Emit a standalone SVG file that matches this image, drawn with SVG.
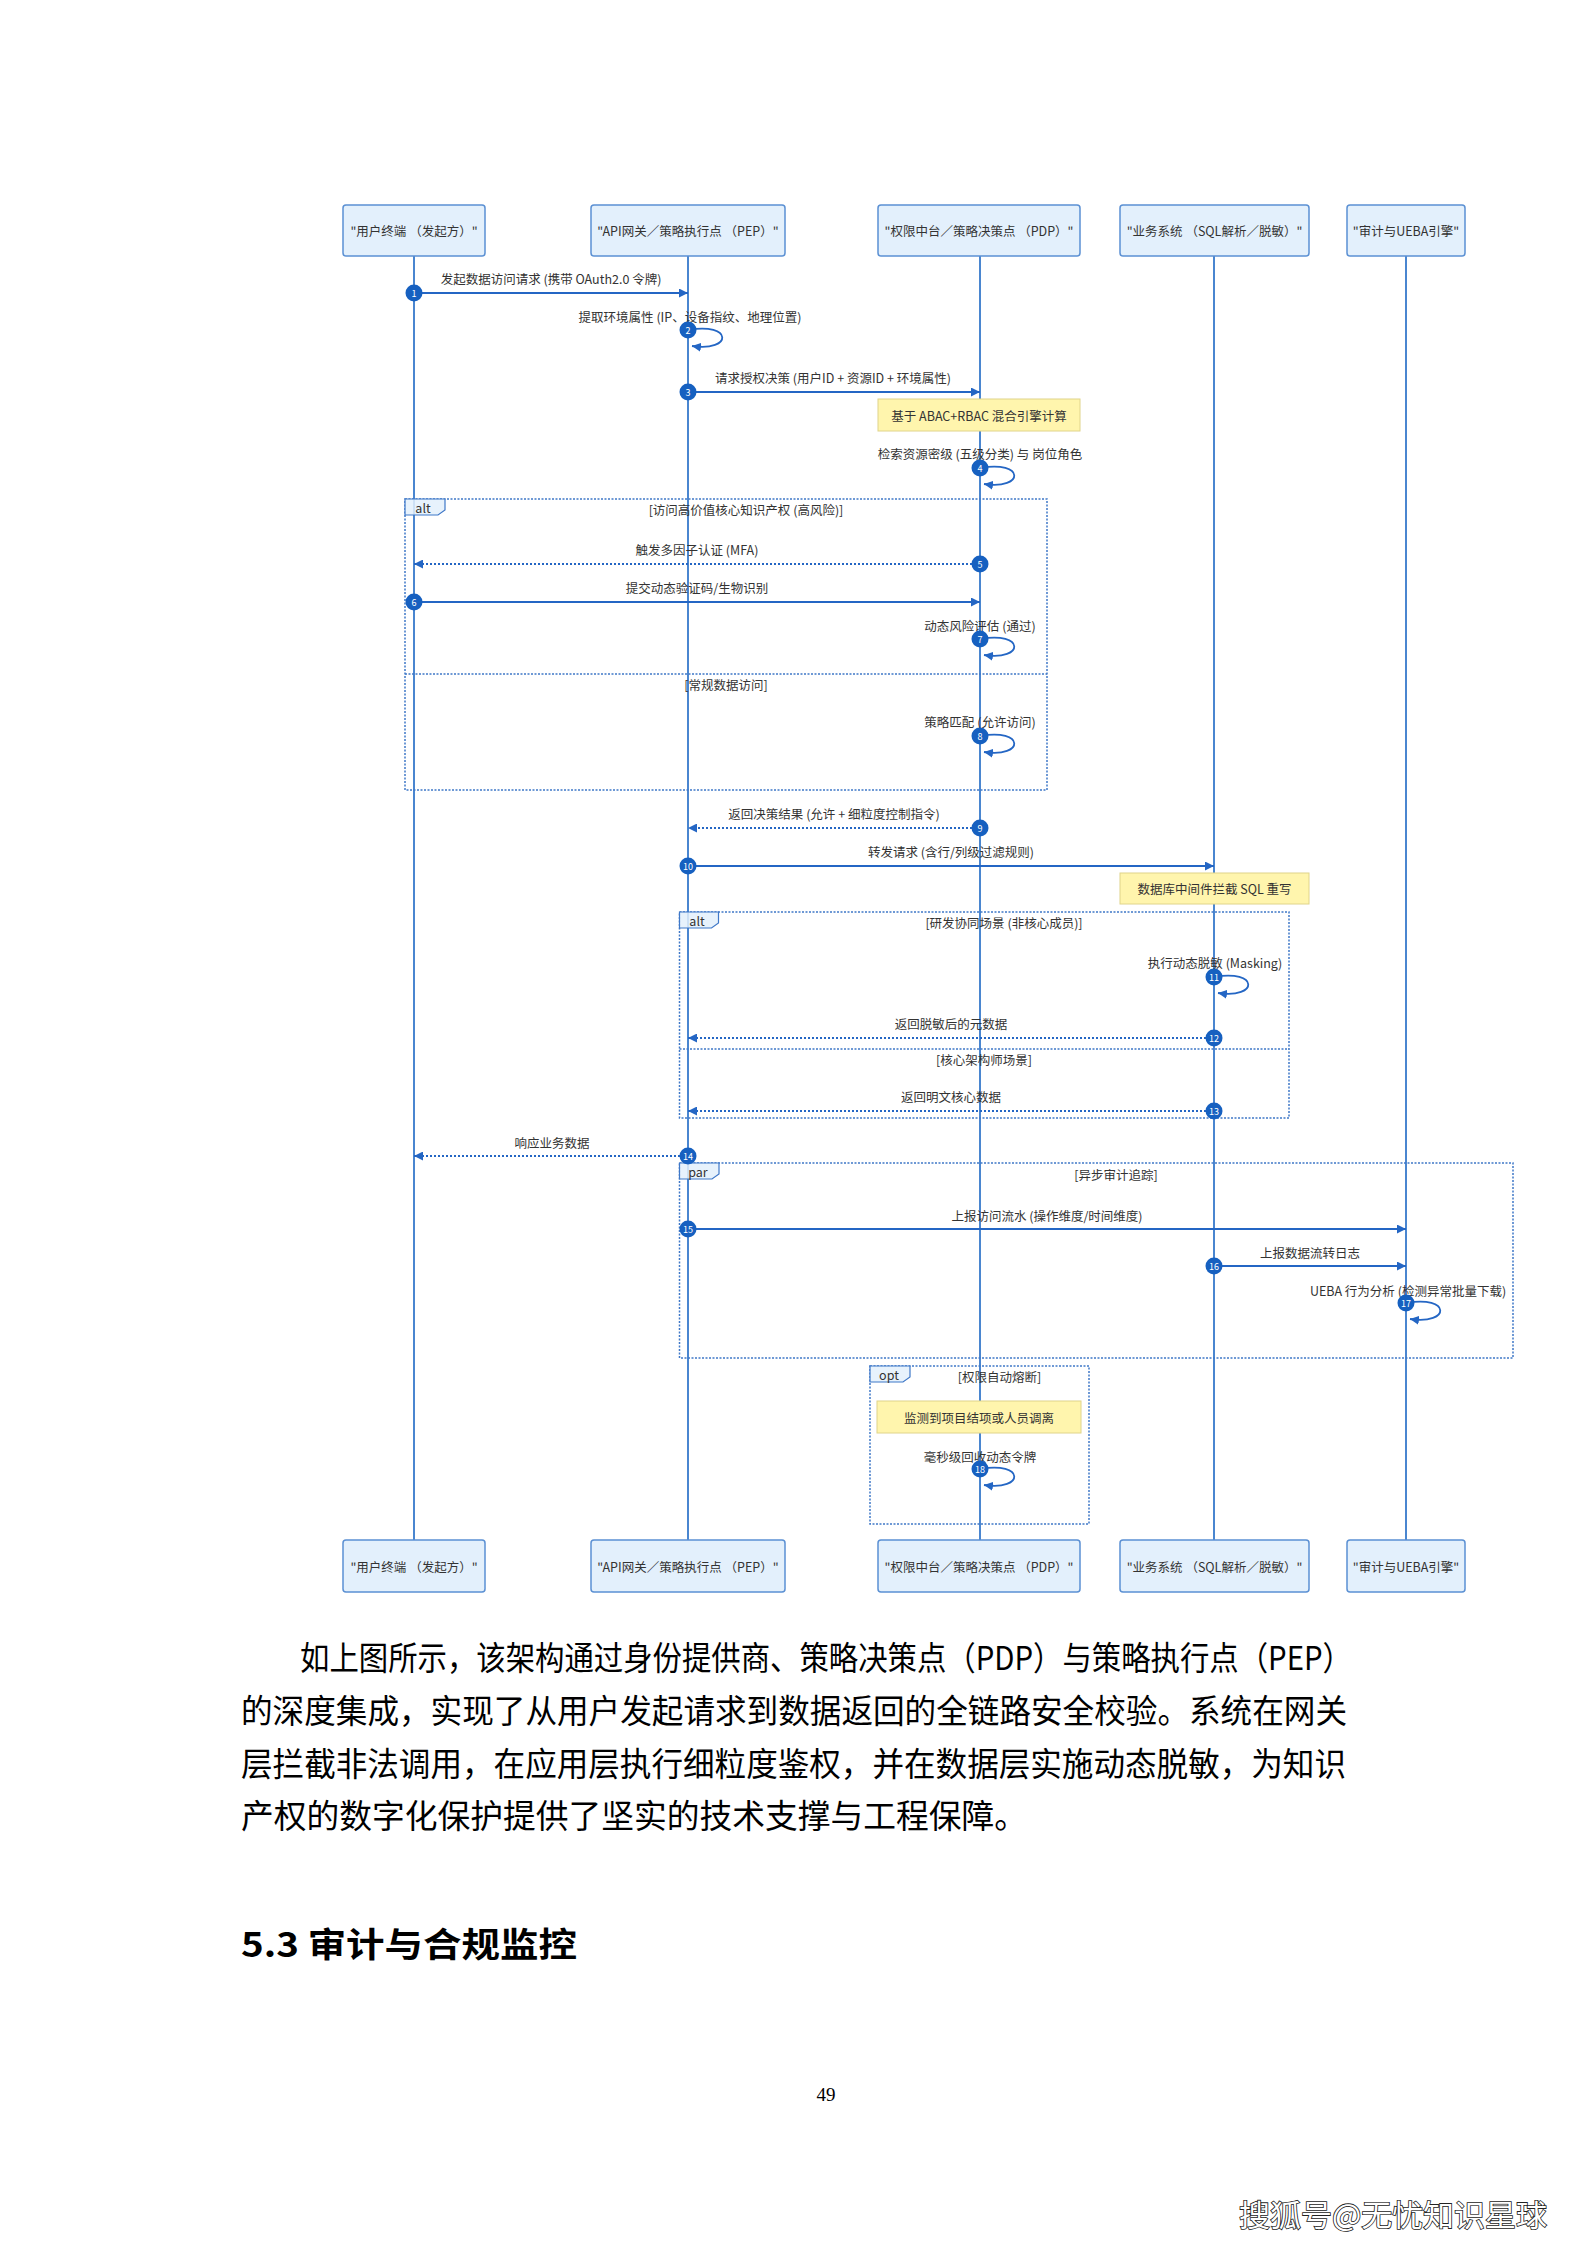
<svg xmlns="http://www.w3.org/2000/svg" width="1587" height="2245" viewBox="0 0 1587 2245">
<defs>
<style>
text{font-family:"Noto Sans CJK SC","Noto Sans",sans-serif;}
.actor rect{fill:#e3f0fc;stroke:#5b90d3;stroke-width:1.5;}
.actor text{font-size:12.5px;fill:#333;text-anchor:middle;dominant-baseline:central;}
.life{stroke:#4a86d0;stroke-width:2;}
.msg{stroke:#2466c4;stroke-width:1.8;fill:none;}
.dot{stroke-dasharray:2,2;}
.lbl{font-size:12.5px;fill:#333;text-anchor:middle;dominant-baseline:central;}
.seq circle{fill:#1660c0;}
.seq text{font-size:9px;fill:#fff;text-anchor:middle;dominant-baseline:central;}
.frame{fill:none;stroke:#3f78c8;stroke-width:1.5;stroke-dasharray:2,1.5;}
.tab{fill:#e3f0fc;fill-opacity:0.85;stroke:#3f78c8;stroke-width:1.2;}
.tabt{font-size:12.5px;fill:#333;text-anchor:middle;dominant-baseline:central;}
.note rect{fill:#fff5ad;stroke:#e0d48a;stroke-width:1;}
.note text{font-size:12.5px;fill:#333;text-anchor:middle;dominant-baseline:central;}
.para{font-size:33px;fill:#000;dominant-baseline:central;}
</style>
<marker id="ah" viewBox="0 0 10 10" refX="10" refY="5" markerWidth="9" markerHeight="9" markerUnits="userSpaceOnUse" orient="auto">
<path d="M0,0 L10,5 L0,10 z" fill="#2466c4"/>
</marker>
</defs>
<rect width="1587" height="2245" fill="#fff"/>

<!-- lifelines -->
<g id="lifelines">
<line class="life" x1="414" y1="256" x2="414" y2="1540"/>
<line class="life" x1="688" y1="256" x2="688" y2="1540"/>
<line class="life" x1="980" y1="256" x2="980" y2="1540"/>
<line class="life" x1="1214" y1="256" x2="1214" y2="1540"/>
<line class="life" x1="1406" y1="256" x2="1406" y2="1540"/>
</g>

<!-- actors top -->
<g id="actor-user" class="actor"><rect x="343" y="205" width="142" height="51" rx="3"/><text x="414" y="230.5">"用户终端 （发起方）"</text></g>
<g id="actor-pep" class="actor"><rect x="591" y="205" width="194" height="51" rx="3"/><text x="688" y="230.5">"API网关／策略执行点 （PEP）"</text></g>
<g id="actor-pdp" class="actor"><rect x="878" y="205" width="202" height="51" rx="3"/><text x="979" y="230.5">"权限中台／策略决策点 （PDP）"</text></g>
<g id="actor-biz" class="actor"><rect x="1120" y="205" width="189" height="51" rx="3"/><text x="1214.5" y="230.5">"业务系统 （SQL解析／脱敏）"</text></g>
<g id="actor-audit" class="actor"><rect x="1347" y="205" width="118" height="51" rx="3"/><text x="1406" y="230.5">"审计与UEBA引擎"</text></g>

<!-- actors bottom -->
<g id="actor-user-b" class="actor"><rect x="343" y="1540" width="142" height="52" rx="3"/><text x="414" y="1566">"用户终端 （发起方）"</text></g>
<g id="actor-pep-b" class="actor"><rect x="591" y="1540" width="194" height="52" rx="3"/><text x="688" y="1566">"API网关／策略执行点 （PEP）"</text></g>
<g id="actor-pdp-b" class="actor"><rect x="878" y="1540" width="202" height="52" rx="3"/><text x="979" y="1566">"权限中台／策略决策点 （PDP）"</text></g>
<g id="actor-biz-b" class="actor"><rect x="1120" y="1540" width="189" height="52" rx="3"/><text x="1214.5" y="1566">"业务系统 （SQL解析／脱敏）"</text></g>
<g id="actor-audit-b" class="actor"><rect x="1347" y="1540" width="118" height="52" rx="3"/><text x="1406" y="1566">"审计与UEBA引擎"</text></g>

<!-- frames -->
<g id="frame-alt1">
<rect class="frame" x="405" y="499" width="642" height="291"/>
<line class="frame" x1="405" y1="674" x2="1047" y2="674"/>
<polygon class="tab" points="405,499 445,499 445,510 438,515 405,515"/>
<text class="tabt" x="423" y="507">alt</text>
<text class="lbl" x="746" y="509">[访问高价值核心知识产权 (高风险)]</text>
<text class="lbl" x="726" y="684">[常规数据访问]</text>
</g>
<g id="frame-alt2">
<rect class="frame" x="679.5" y="912" width="609.5" height="206"/>
<line class="frame" x1="679.5" y1="1049" x2="1289" y2="1049"/>
<polygon class="tab" points="679.5,912 718.5,912 718.5,923 711.5,928 679.5,928"/>
<text class="tabt" x="697" y="920">alt</text>
<text class="lbl" x="1004" y="922">[研发协同场景 (非核心成员)]</text>
<text class="lbl" x="984" y="1059">[核心架构师场景]</text>
</g>
<g id="frame-par">
<rect class="frame" x="679.5" y="1163" width="833.5" height="195"/>
<polygon class="tab" points="679.5,1163 719,1163 719,1174 712,1179 679.5,1179"/>
<text class="tabt" x="698" y="1171">par</text>
<text class="lbl" x="1116" y="1174">[异步审计追踪]</text>
</g>
<g id="frame-opt">
<rect class="frame" x="870" y="1366" width="219" height="158"/>
<polygon class="tab" points="870,1366 910,1366 910,1377 903,1382 870,1382"/>
<text class="tabt" x="889" y="1374">opt</text>
<text class="lbl" x="999.5" y="1376">[权限自动熔断]</text>
</g>

<!-- notes -->
<g id="note-1" class="note"><rect x="878" y="399" width="202" height="32"/><text x="979" y="415">基于 ABAC+RBAC 混合引擎计算</text></g>
<g id="note-2" class="note"><rect x="1120" y="873" width="189" height="31"/><text x="1214.5" y="888.5">数据库中间件拦截 SQL 重写</text></g>
<g id="note-3" class="note"><rect x="877" y="1401" width="204" height="32"/><text x="979" y="1417">监测到项目结项或人员调离</text></g>

<!-- connectors -->
<g id="connectors">
<line class="msg" x1="414" y1="293" x2="688" y2="293" marker-end="url(#ah)"/>
<path class="msg" d="M688,330 C733,322 733,352 692,346" marker-end="url(#ah)"/>
<line class="msg" x1="688" y1="392" x2="980" y2="392" marker-end="url(#ah)"/>
<path class="msg" d="M980,468 C1025,460 1025,490 984,484" marker-end="url(#ah)"/>
<line class="msg dot" x1="980" y1="564" x2="414" y2="564" marker-end="url(#ah)"/>
<line class="msg" x1="414" y1="602" x2="980" y2="602" marker-end="url(#ah)"/>
<path class="msg" d="M980,639 C1025,631 1025,661 984,655" marker-end="url(#ah)"/>
<path class="msg" d="M980,736 C1025,728 1025,758 984,752" marker-end="url(#ah)"/>
<line class="msg dot" x1="980" y1="828" x2="688" y2="828" marker-end="url(#ah)"/>
<line class="msg" x1="688" y1="866" x2="1214" y2="866" marker-end="url(#ah)"/>
<path class="msg" d="M1214,977 C1259,969 1259,999 1218,993" marker-end="url(#ah)"/>
<line class="msg dot" x1="1214" y1="1038" x2="688" y2="1038" marker-end="url(#ah)"/>
<line class="msg dot" x1="1214" y1="1111" x2="688" y2="1111" marker-end="url(#ah)"/>
<line class="msg dot" x1="688" y1="1156" x2="414" y2="1156" marker-end="url(#ah)"/>
<line class="msg" x1="688" y1="1229" x2="1406" y2="1229" marker-end="url(#ah)"/>
<line class="msg" x1="1214" y1="1266" x2="1406" y2="1266" marker-end="url(#ah)"/>
<path class="msg" d="M1406,1303 C1451,1295 1451,1325 1410,1319" marker-end="url(#ah)"/>
<path class="msg" d="M980,1469 C1025,1461 1025,1491 984,1485" marker-end="url(#ah)"/>

<text class="lbl" x="551" y="278">发起数据访问请求 (携带 OAuth2.0 令牌)</text>
<text class="lbl" x="690" y="316">提取环境属性 (IP、设备指纹、地理位置)</text>
<text class="lbl" x="833" y="377">请求授权决策 (用户ID + 资源ID + 环境属性)</text>
<text class="lbl" x="980" y="453">检索资源密级 (五级分类) 与 岗位角色</text>
<text class="lbl" x="697" y="549">触发多因子认证 (MFA)</text>
<text class="lbl" x="697" y="587">提交动态验证码/生物识别</text>
<text class="lbl" x="980" y="625">动态风险评估 (通过)</text>
<text class="lbl" x="980" y="721">策略匹配 (允许访问)</text>
<text class="lbl" x="834" y="813">返回决策结果 (允许 + 细粒度控制指令)</text>
<text class="lbl" x="951" y="851">转发请求 (含行/列级过滤规则)</text>
<text class="lbl" x="1215" y="962">执行动态脱敏 (Masking)</text>
<text class="lbl" x="951" y="1023">返回脱敏后的元数据</text>
<text class="lbl" x="951" y="1096">返回明文核心数据</text>
<text class="lbl" x="552" y="1142">响应业务数据</text>
<text class="lbl" x="1047" y="1215">上报访问流水 (操作维度/时间维度)</text>
<text class="lbl" x="1310" y="1252">上报数据流转日志</text>
<text class="lbl" x="1408" y="1290">UEBA 行为分析 (检测异常批量下载)</text>
<text class="lbl" x="980" y="1456">毫秒级回收动态令牌</text>
</g>

<!-- sequence numbers -->
<g id="seq" class="seq">
<circle cx="414" cy="293" r="8.5"/><text x="414" y="293">1</text>
<circle cx="688" cy="330" r="8.5"/><text x="688" y="330">2</text>
<circle cx="688" cy="392" r="8.5"/><text x="688" y="392">3</text>
<circle cx="980" cy="468" r="8.5"/><text x="980" y="468">4</text>
<circle cx="980" cy="564" r="8.5"/><text x="980" y="564">5</text>
<circle cx="414" cy="602" r="8.5"/><text x="414" y="602">6</text>
<circle cx="980" cy="639" r="8.5"/><text x="980" y="639">7</text>
<circle cx="980" cy="736" r="8.5"/><text x="980" y="736">8</text>
<circle cx="980" cy="828" r="8.5"/><text x="980" y="828">9</text>
<circle cx="688" cy="866" r="8.5"/><text x="688" y="866">10</text>
<circle cx="1214" cy="977" r="8.5"/><text x="1214" y="977">11</text>
<circle cx="1214" cy="1038" r="8.5"/><text x="1214" y="1038">12</text>
<circle cx="1214" cy="1111" r="8.5"/><text x="1214" y="1111">13</text>
<circle cx="688" cy="1156" r="8.5"/><text x="688" y="1156">14</text>
<circle cx="688" cy="1229" r="8.5"/><text x="688" y="1229">15</text>
<circle cx="1214" cy="1266" r="8.5"/><text x="1214" y="1266">16</text>
<circle cx="1406" cy="1303" r="8.5"/><text x="1406" y="1303">17</text>
<circle cx="980" cy="1469" r="8.5"/><text x="980" y="1469">18</text>
</g>

<!-- body text -->
<g id="body">
<text class="para" x="300" y="1656" textLength="1052" lengthAdjust="spacingAndGlyphs">如上图所示，该架构通过身份提供商、策略决策点（PDP）与策略执行点（PEP）</text>
<text class="para" x="241" y="1709" textLength="1106" lengthAdjust="spacingAndGlyphs">的深度集成，实现了从用户发起请求到数据返回的全链路安全校验。系统在网关</text>
<text class="para" x="241" y="1762" textLength="1105" lengthAdjust="spacingAndGlyphs">层拦截非法调用，在应用层执行细粒度鉴权，并在数据层实施动态脱敏，为知识</text>
<text class="para" x="241" y="1814" textLength="786" lengthAdjust="spacingAndGlyphs">产权的数字化保护提供了坚实的技术支撑与工程保障。</text>
<text x="241" y="1942" font-size="34" font-weight="600" fill="#000" dominant-baseline="central" textLength="336" lengthAdjust="spacingAndGlyphs">5.3 审计与合规监控</text>
<text x="826" y="2094" font-size="19" fill="#000" text-anchor="middle" dominant-baseline="central" style="font-family:'Liberation Serif',serif">49</text>
<text x="1239" y="2213" font-size="30" fill="#fff" stroke="#222" stroke-width="1.6" paint-order="stroke" dominant-baseline="central" textLength="308" lengthAdjust="spacingAndGlyphs">搜狐号@无忧知识星球</text>
</g>
</svg>
